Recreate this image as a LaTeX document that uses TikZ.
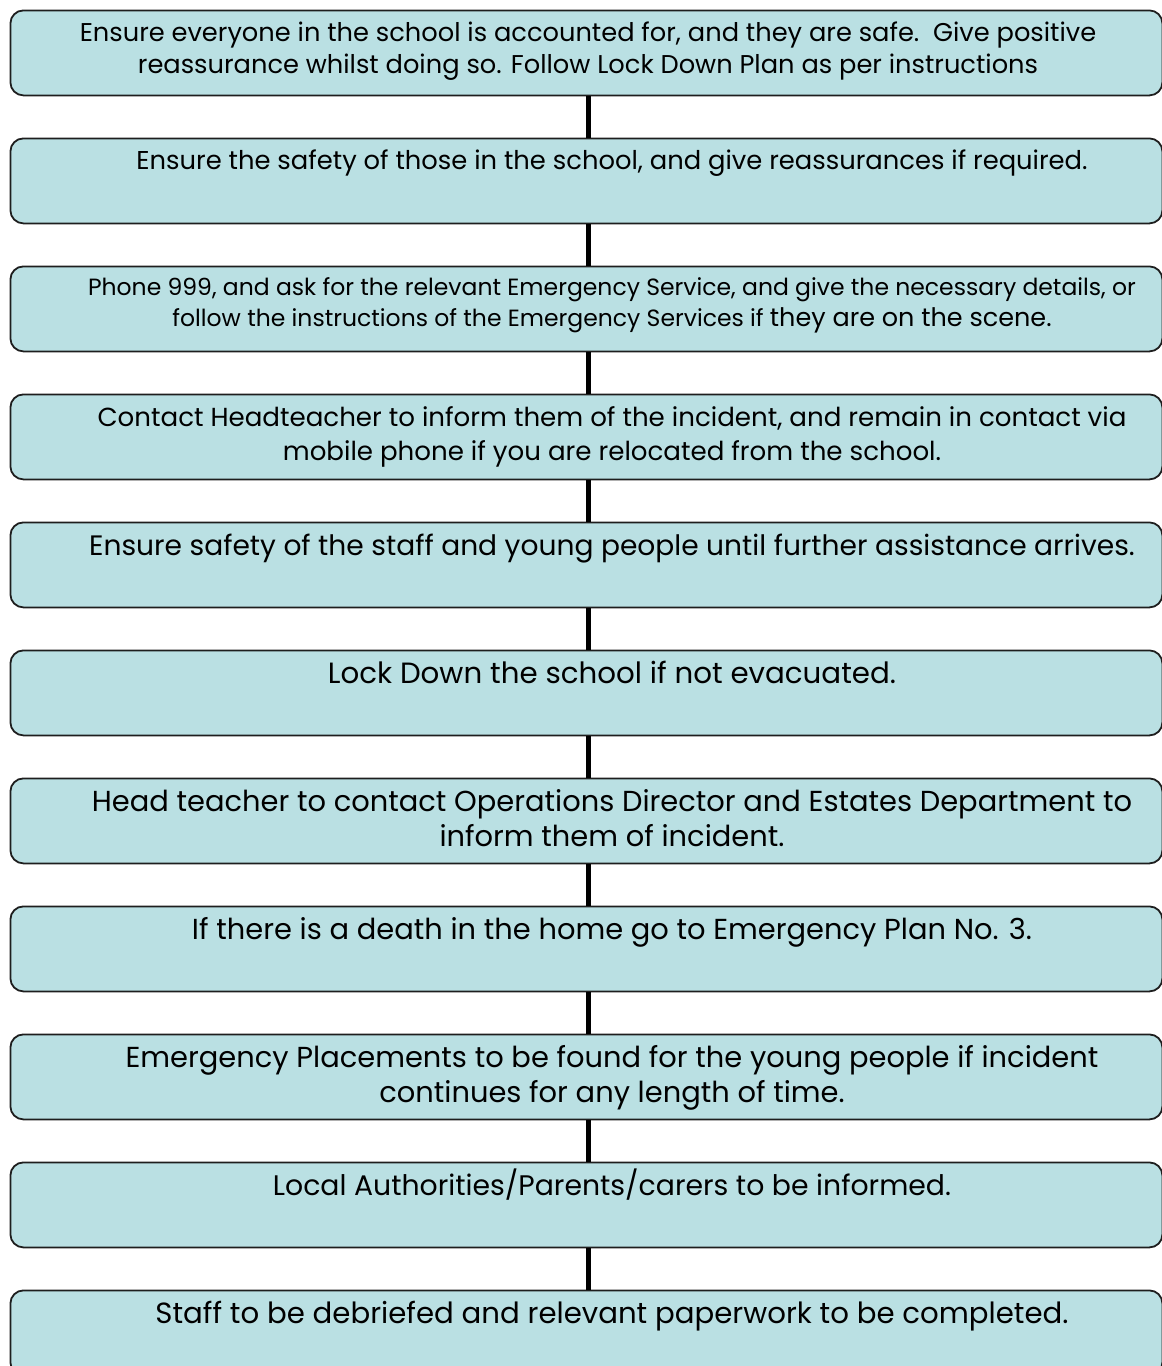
\documentclass[tikz,border=0pt]{standalone}
\usepackage{fontspec}
\setmainfont{Poppins}
\definecolor{boxfill}{RGB}{186,224,227}
\definecolor{boxline}{RGB}{30,30,30}
\tikzset{
  stepbox/.style={draw=boxline, line width=1.8pt, fill=boxfill, rounded corners=13pt,
    minimum width=1152pt, minimum height=85pt, inner sep=0pt, anchor=north west},
  steptext/.style={anchor=base, align=center, inner sep=0pt, text=black},
  link/.style={line width=5pt, black}
}
\newcommand{\fs}[2]{\fontsize{#1}{#2}\selectfont}
\begin{document}
\begin{tikzpicture}[x=1pt,y=-1pt]
\useasboundingbox (0,0) rectangle (1162,1366);
\clip (0,0) rectangle (1162,1366);
\coordinate (cx) at (588,0);
\foreach \i in {1,...,11}{
  \node[stepbox] (b\i) at (9.5,{9.5+128*(\i-1)}) {};
}
\foreach \i [evaluate=\i as \j using int(\i+1)] in {1,...,10}{
  \draw[link] (b\i.south -| cx) -- (b\j.north -| cx);
}
% multi-line nodes are placed at the baseline of their last line
\node[steptext, font=\fs{25.7}{31.3}] (t1) at (588,73) {Ensure everyone in the school is accounted for, and they are safe.\ \ Give positive\\reassurance whilst doing so. Follow Lock Down Plan as per instructions};
\node[steptext, font=\fs{25.8}{33}] (t2) at (612,169) {Ensure the safety of those in the school, and give reassurances if required.};
\node[steptext, font=\fs{23.5}{31.7}] (t3) at (612,326.7) {Phone 999, and ask for the relevant Emergency Service, and give the necessary details, or\\follow the instructions of the Emergency Services if {\fontsize{25.5}{31.7}\selectfont they are on the scene.}};
\node[steptext, font=\fs{26.1}{33.5}] (t4) at (612,460) {Contact Headteacher to inform them of the incident, and remain in contact via\\mobile phone if you are relocated from the school.};
\node[steptext, font=\fs{28.1}{35}] (t5) at (612,555) {Ensure safety of the staff and young people until further assistance arrives.};
\node[steptext, font=\fs{29.3}{35}] (t6) at (612,683) {Lock Down the school if not evacuated.};
\node[steptext, font=\fs{28.9}{35}] (t7) at (612,846.5) {Head teacher to contact Operations Director and Estates Department to\\inform them of incident.};
\node[steptext, font=\fs{28.9}{35}] (t8) at (612,939) {If there is a death in the home go to Emergency Plan No. 3.};
\node[steptext, font=\fs{28.9}{35}] (t9) at (612,1102.5) {Emergency Placements to be found for the young people if incident\\continues for any length of time.};
\node[steptext, font=\fs{28.3}{35}] (t10) at (612,1195) {Local Authorities/Parents/carers to be informed.};
\node[steptext, font=\fs{29.2}{35}] (t11) at (612,1323) {Staff to be debriefed and relevant paperwork to be completed.};
\end{tikzpicture}
\end{document}
